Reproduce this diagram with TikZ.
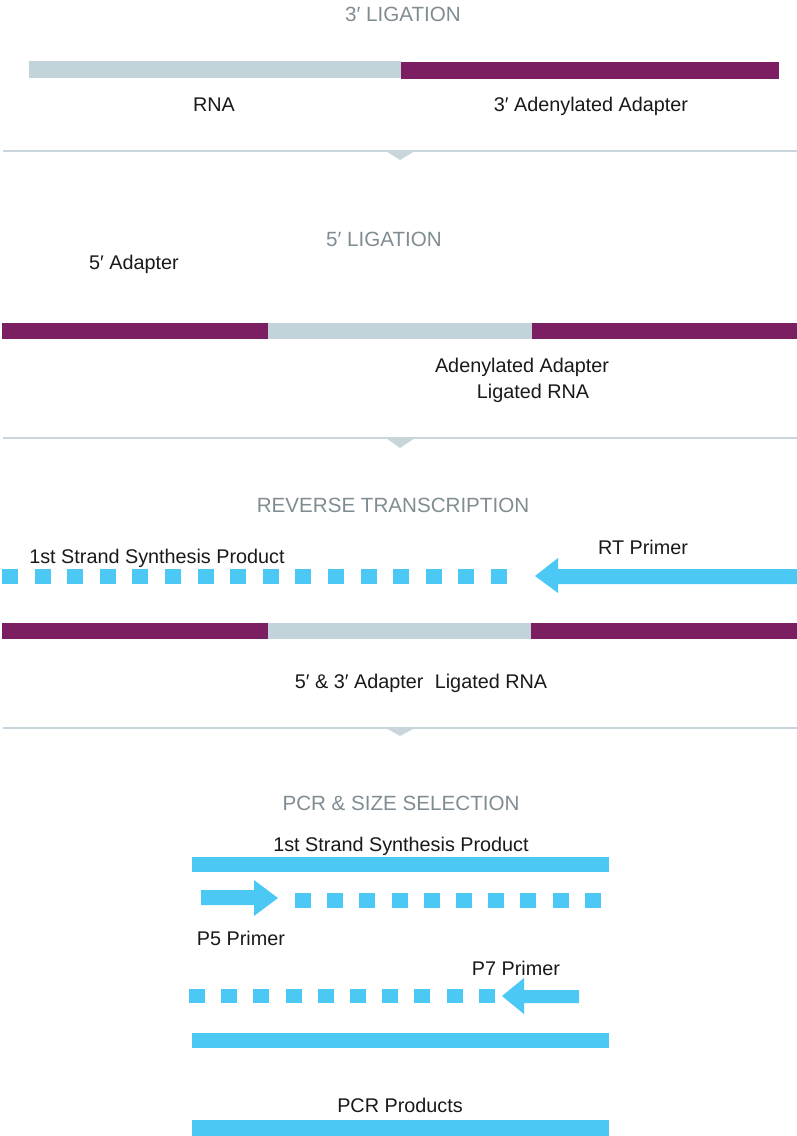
\documentclass[tikz,border=0pt]{standalone}
\usepackage{fontspec}
\setmainfont{Liberation Sans}
\definecolor{purp}{HTML}{7B1F62}
\definecolor{rnagrey}{HTML}{C2D3D9}
\definecolor{cyanb}{HTML}{4BC8F4}
\definecolor{titlegrey}{HTML}{7F8C91}
\definecolor{divgrey}{HTML}{C8D6DB}
\begin{document}
\begin{tikzpicture}[x=1pt,y=-1pt,
  lbl/.style={anchor=base,inner sep=0pt,font=\fontsize{19.8}{22}\selectfont,text=black!90},
  ttl/.style={anchor=base,inner sep=0pt,font=\fontsize{20.6}{22}\selectfont,text=titlegrey},
  adapter/.style={fill=purp},
  rnabar/.style={fill=rnagrey},
  strand/.style={fill=cyanb},
  divider/.style={draw=divgrey,line width=2pt},
  divtip/.style={fill=divgrey}]
\useasboundingbox (0,0) rectangle (797,1136);
% ---------- 3' ligation
\node[ttl] (t1) at (403,21) {3′ LIGATION};
\fill[rnabar] (29,61) rectangle (401,78);
\fill[adapter] (401,62) rectangle (779,79);
\node[lbl] (rna) at (214,111) {RNA};
\node[lbl] (ada3) at (591,111) {3′ Adenylated Adapter};
\draw[divider] (3,151) -- (797,151);
\fill[divtip] (386,151) -- (415,151) -- (400,160) -- cycle;
% ---------- 5' ligation
\node[ttl] (t2) at (384,246) {5′ LIGATION};
\node[lbl] (ada5) at (134,269) {5′ Adapter};
\fill[adapter] (2,323) rectangle (268,339);
\fill[rnabar] (268,323) rectangle (532,339);
\fill[adapter] (532,323) rectangle (797,339);
\node[lbl] (adl1) at (522,372) {Adenylated Adapter};
\node[lbl] (adl2) at (533,398) {Ligated RNA};
\draw[divider] (3,438) -- (797,438);
\fill[divtip] (386,438) -- (415,438) -- (400,448) -- cycle;
% ---------- reverse transcription
\node[ttl] (t3) at (393,512) {REVERSE TRANSCRIPTION};
\node[lbl] (fs1) at (157,563) {1st Strand Synthesis Product};
\node[lbl] (rtp) at (643,554) {RT Primer};
\foreach \i in {0,...,15}{
  \fill[strand] ({2+32.6*\i},569) rectangle ({18+32.6*\i},584);
}
\fill[strand] (535,576) -- (558,558) -- (558,569) -- (797,569) -- (797,584) -- (558,584) -- (558,593) -- cycle;
\fill[adapter] (2,623) rectangle (268,639);
\fill[rnabar] (268,623) rectangle (531,639);
\fill[adapter] (531,623) rectangle (797,639);
\node[lbl] (lig) at (421,688) {5′ \& 3′ Adapter\hspace{0.3em} Ligated RNA};
\draw[divider] (3,728) -- (797,728);
\fill[divtip] (386,728) -- (415,728) -- (400,736) -- cycle;
% ---------- PCR & size selection
\node[ttl] (t4) at (401,810) {PCR \& SIZE SELECTION};
\node[lbl] (fs2) at (401,851) {1st Strand Synthesis Product};
\fill[strand] (192,857) rectangle (609,872);
\fill[strand] (201,890) -- (254,890) -- (254,880) -- (278,898) -- (254,916) -- (254,905) -- (201,905) -- cycle;
\foreach \i in {0,...,9}{
  \fill[strand] ({295+32.2*\i},893) rectangle ({311+32.2*\i},908);
}
\node[lbl] (p5) at (241,945) {P5 Primer};
\node[lbl] (p7) at (516,975) {P7 Primer};
\foreach \i in {0,...,9}{
  \fill[strand] ({189+32.2*\i},989) rectangle ({205+32.2*\i},1003);
}
\fill[strand] (502,996) -- (524,978) -- (524,990) -- (579,990) -- (579,1003) -- (524,1003) -- (524,1014) -- cycle;
\fill[strand] (192,1033) rectangle (609,1048);
\node[lbl] (pcr) at (400,1112) {PCR Products};
\fill[strand] (192,1120) rectangle (609,1136);
\end{tikzpicture}
\end{document}
